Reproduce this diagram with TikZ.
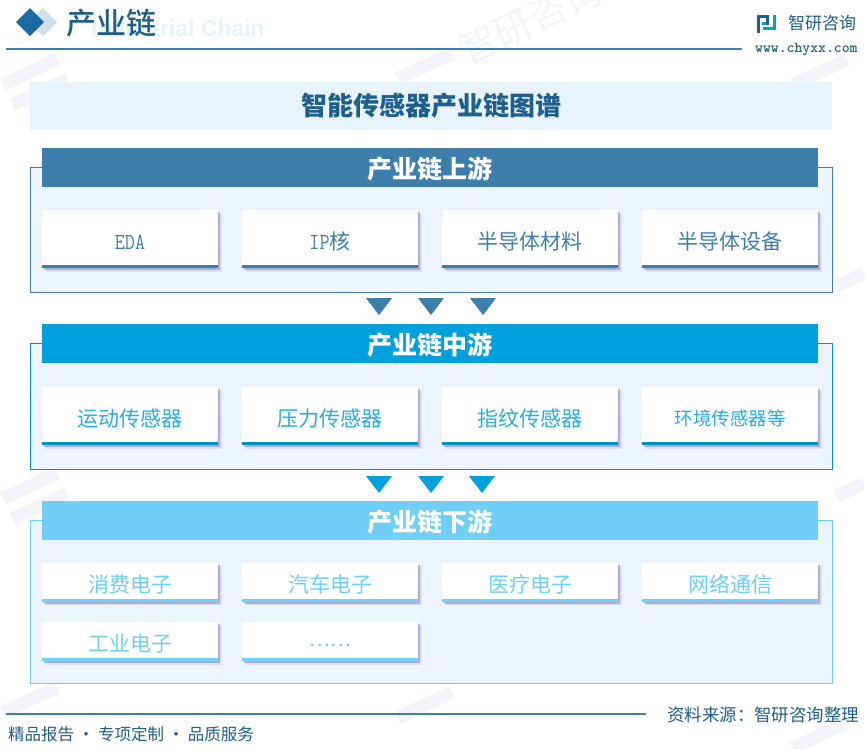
\documentclass[tikz,border=0pt]{standalone}
\usepackage{fontspec}
\setmainfont{Noto Sans CJK SC}
\newfontfamily\slimmono[FakeStretch=0.85]{Latin Modern Mono}
\newfontfamily\latinsans{Liberation Sans}
\newfontfamily\medfont{Noto Sans CJK SC Medium}
\usetikzlibrary{shapes.geometric, shadows}
\definecolor{upcol}{HTML}{3E7EAB}
\definecolor{midcol}{HTML}{00A0DC}
\definecolor{downcol}{HTML}{6FCFF6}
\definecolor{framefill}{HTML}{EEF4FD}
\definecolor{bandfill}{HTML}{E8F3FB}
\definecolor{titlecol}{HTML}{1F5F8B}
\definecolor{wmcol}{HTML}{F4F5F8}
\definecolor{diamcol}{HTML}{1B6AA5}
\begin{document}
\begin{tikzpicture}[x=1pt, y=-1pt, node distance=200pt]

    \tikzstyle{frame} = [rectangle, minimum width=802pt, fill=framefill, line width=0.9pt]
    \tikzstyle{header} = [rectangle, minimum width=776pt, minimum height=39pt, text height=22pt, text depth=0pt, inner ysep=0pt, text centered, text=white, font=\fontsize{25}{25}\selectfont\bfseries]
    \tikzstyle{card} = [rectangle, minimum width=176pt, minimum height=58pt, text height=20pt, text depth=0pt, text centered, fill=white, inner sep=0pt, drop shadow={shadow xshift=3.5pt, shadow yshift=-3.5pt, fill=blue!40!black, opacity=0.08}, drop shadow={shadow xshift=2pt, shadow yshift=-2pt, fill=blue!40!black, opacity=0.22}, font=\fontsize{21}{21}\selectfont]
    \tikzstyle{cardup} = [card, text=upcol, path picture={\fill[upcol] (path picture bounding box.south west) rectangle ([yshift=3pt]path picture bounding box.south east);}]
    \tikzstyle{cardmid} = [card, text=midcol!85!white, path picture={\fill[midcol!90!black] (path picture bounding box.south west) rectangle ([yshift=3pt]path picture bounding box.south east);}]
    \tikzstyle{carddown} = [card, minimum height=39pt, text=downcol, path picture={\fill[downcol] (path picture bounding box.south west) rectangle ([yshift=3pt]path picture bounding box.south east);}]
    \tikzstyle{footer} = [text=titlecol, inner sep=0pt, font=\fontsize{16.5}{17}\selectfont]
    \tikzstyle{wmtext} = [text=wmcol, rotate=25, inner sep=0pt, font=\fontsize{38}{38}\selectfont]
    \tikzstyle{wmblock} = [rectangle, fill=wmcol, rotate=25, minimum width=60pt, minimum height=13pt, inner sep=0pt]

    \useasboundingbox (0,0) rectangle (865,748);
    \fill[white] (0,0) rectangle (865,748);

    % faint marks behind everything
    \node[wmtext] (wmtop) at (530,20) {智研咨询};
    \node[wmblock] (wma) at (30,72) {};
    \node[wmblock] (wmb) at (40,92) {};
    \node[wmblock] (wmc) at (425,66) {};
    \node[wmblock] (wmd) at (820,72) {};
    \node[wmblock] (wme) at (30,486) {};
    \node[wmblock] (wmf) at (40,506) {};
    \node[wmblock, minimum width=30pt] (wmg) at (850,280) {};
    \node[wmblock, minimum width=30pt] (wmh) at (850,490) {};
    \node[wmblock] (wmi) at (30,700) {};
    \node[wmblock] (wmj) at (425,705) {};
    \node[wmblock] (wmk) at (820,735) {};

    % heading of the page
    \node[text=bandfill, anchor=east, inner sep=0pt, font=\fontsize{23}{23}\selectfont\latinsans\bfseries] (ghost) at (265,28) {Industrial Chain};
    \fill[upcol!25] (43,8) -- (57,22) -- (43,36) -- (29,22) -- cycle;
    \fill[diamcol] (30,8) -- (44,22) -- (30,36) -- (16,22) -- cycle;
    \node[text=titlecol, anchor=west, inner sep=0pt, font=\fontsize{30}{30}\selectfont\medfont] (chain) at (66,23) {产业链};
    \draw[upcol, line width=1.2pt] (6,49) -- (742,49);

    % logo
    \fill[titlecol] (757,15) rectangle (769,18);
    \fill[titlecol] (757,15) rectangle (760,33);
    \fill[titlecol] (766,15) rectangle (769,25);
    \fill[midcol] (762,22) rectangle (766,25);
    \fill[midcol] (773,15) rectangle (776,30);
    \fill[midcol] (763,27) rectangle (776,30);
    \node[text=titlecol, anchor=west, inner sep=0pt, font=\fontsize{17}{17}\selectfont] (brand) at (788,23) {智研咨询};
    \node[text=titlecol, anchor=west, inner sep=0pt, font=\fontsize{15}{15}\selectfont\ttfamily\bfseries] (web) at (755,50) {www.chyxx.com};

    % title band
    \node[rectangle, minimum width=802pt, minimum height=48pt, fill=bandfill, text=titlecol, font=\fontsize{26}{26}\selectfont\bfseries] (title) at (431,106) {智能传感器产业链图谱};

    % upstream
    \node[frame, minimum height=125pt, draw=upcol] (upframe) at (431,229.5) {};
    \node[header, fill=upcol] (uphead) at (430,167.5) {产业链上游};
    \node[cardup, font=\fontsize{23}{23}\selectfont\slimmono] (eda) at (130,239) {EDA};
    \node[cardup, right of=eda] (ip) {{\fontsize{23}{23}\selectfont\slimmono IP}核};
    \node[cardup, right of=ip] (mat) {半导体材料};
    \node[cardup, right of=mat] (equip) {半导体设备};

    \fill[upcol] (366,298) -- (392,298) -- (379,315) -- cycle;
    \fill[upcol] (418,298) -- (444,298) -- (431,315) -- cycle;
    \fill[upcol] (470,298) -- (496,298) -- (483,315) -- cycle;

    % midstream
    \node[frame, minimum height=126pt, draw=midcol!90!black] (midframe) at (431,406) {};
    \node[header, fill=midcol] (midhead) at (430,343.5) {产业链中游};
    \node[cardmid] (motion) at (130,416) {运动传感器};
    \node[cardmid, right of=motion] (press) {压力传感器};
    \node[cardmid, right of=press] (finger) {指纹传感器};
    \node[cardmid, right of=finger, text height=18pt, font=\fontsize{18.5}{19}\selectfont] (envir) {环境传感器等};

    \fill[midcol] (366,476) -- (392,476) -- (379,493) -- cycle;
    \fill[midcol] (418,476) -- (444,476) -- (431,493) -- cycle;
    \fill[midcol] (469,476) -- (495,476) -- (482,493) -- cycle;

    % downstream
    \node[frame, minimum height=163pt, draw=downcol] (downframe) at (431,601.5) {};
    \node[header, fill=downcol] (downhead) at (430,520.5) {产业链下游};
    \node[carddown] (consum) at (130,582) {消费电子};
    \node[carddown, right of=consum] (auto) {汽车电子};
    \node[carddown, right of=auto] (medic) {医疗电子};
    \node[carddown, right of=medic] (netw) {网络通信};
    \node[carddown, below of=consum, node distance=59.5pt] (indus) {工业电子};
    \node[carddown, right of=indus, text height=10pt, font=\fontsize{19.5}{20}\selectfont] (more) {……};

    % foot of the page
    \draw[upcol, line width=1.2pt] (6,714) -- (646,714);
    \node[footer, anchor=west] (slogan) at (8,734) {精品报告 · 专项定制 · 品质服务};
    \node[footer, anchor=east, font=\fontsize{17.4}{18}\selectfont] (source) at (859,715) {资料来源：智研咨询整理};

\end{tikzpicture}
\end{document}
